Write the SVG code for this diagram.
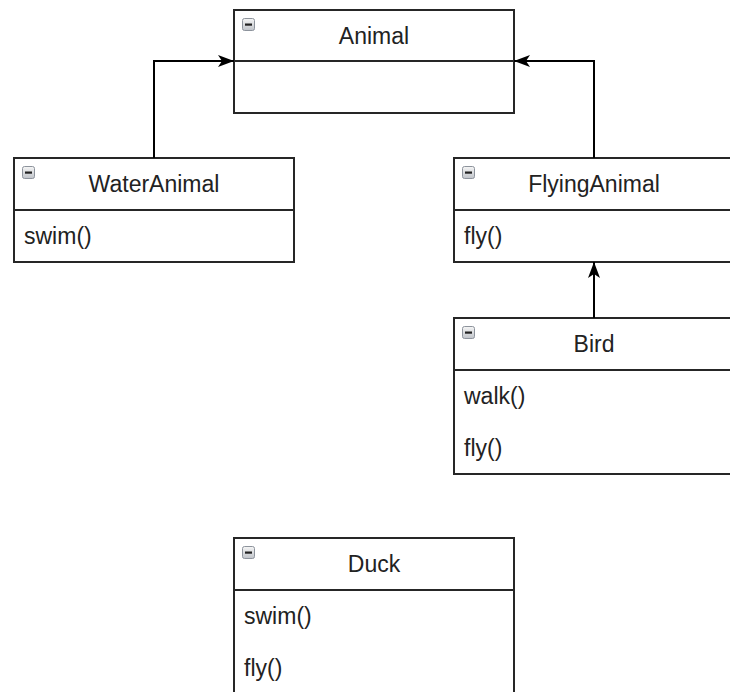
<svg xmlns="http://www.w3.org/2000/svg" width="730" height="692" viewBox="0 0 730 692">
<defs>
<linearGradient id="ig" x1="0" y1="0" x2="0" y2="1">
<stop offset="0" stop-color="#f6f6f6"/><stop offset="1" stop-color="#bfc3c9"/>
</linearGradient>
<g id="minus">
<rect x="0.5" y="0.5" width="12" height="12" rx="2" fill="url(#ig)" stroke="#8d939c" stroke-width="1"/>
<rect x="3" y="5.5" width="7" height="2.2" fill="#222"/>
</g>
<marker id="arr" viewBox="0 0 16 12" refX="16" refY="6" markerWidth="16" markerHeight="12" markerUnits="userSpaceOnUse" orient="auto">
<path d="M0,0 L16,6 L0,12 L4,6 Z" fill="#000"/>
</marker>
</defs>
<style>
.box{fill:#fff;stroke:#262626;stroke-width:2}
.div{stroke:#262626;stroke-width:2}
.t{font-family:"Liberation Sans",Arial,sans-serif;font-size:23px;fill:#222}
.c{text-anchor:middle}
.edge{fill:none;stroke:#000;stroke-width:2}
</style>
<rect width="730" height="692" fill="#fff"/>
<g id="Animal">
<rect class="box" x="234" y="10" width="280" height="103"/>
<line class="div" x1="234" y1="61" x2="514" y2="61"/>
<use href="#minus" x="242" y="18"/>
<text class="t c" x="374" y="44">Animal</text>
</g>
<g id="WaterAnimal">
<rect class="box" x="14" y="158" width="280" height="104"/>
<line class="div" x1="14" y1="210" x2="294" y2="210"/>
<use href="#minus" x="22" y="166"/>
<text class="t c" x="154" y="192">WaterAnimal</text>
<text class="t" x="24" y="244">swim()</text>
</g>
<g id="FlyingAnimal">
<rect class="box" x="454" y="158" width="290" height="104"/>
<line class="div" x1="454" y1="210" x2="730" y2="210"/>
<use href="#minus" x="462" y="166"/>
<text class="t c" x="594" y="192">FlyingAnimal</text>
<text class="t" x="464" y="244">fly()</text>
</g>
<g id="Bird">
<rect class="box" x="454" y="318" width="290" height="156"/>
<line class="div" x1="454" y1="370" x2="730" y2="370"/>
<use href="#minus" x="462" y="326"/>
<text class="t c" x="594" y="352">Bird</text>
<text class="t" x="464" y="404">walk()</text>
<text class="t" x="464" y="456">fly()</text>
</g>
<g id="Duck">
<rect class="box" x="234" y="538" width="280" height="170"/>
<line class="div" x1="234" y1="590" x2="514" y2="590"/>
<use href="#minus" x="242" y="546"/>
<text class="t c" x="374" y="572">Duck</text>
<text class="t" x="244" y="624">swim()</text>
<text class="t" x="244" y="676">fly()</text>
</g>
<g id="connectors">
<path class="edge" d="M154,158 V61 H234" marker-end="url(#arr)"/>
<path class="edge" d="M594,158 V61 H514" marker-end="url(#arr)"/>
<path class="edge" d="M594,318 V262" marker-end="url(#arr)"/>
</g>
</svg>
